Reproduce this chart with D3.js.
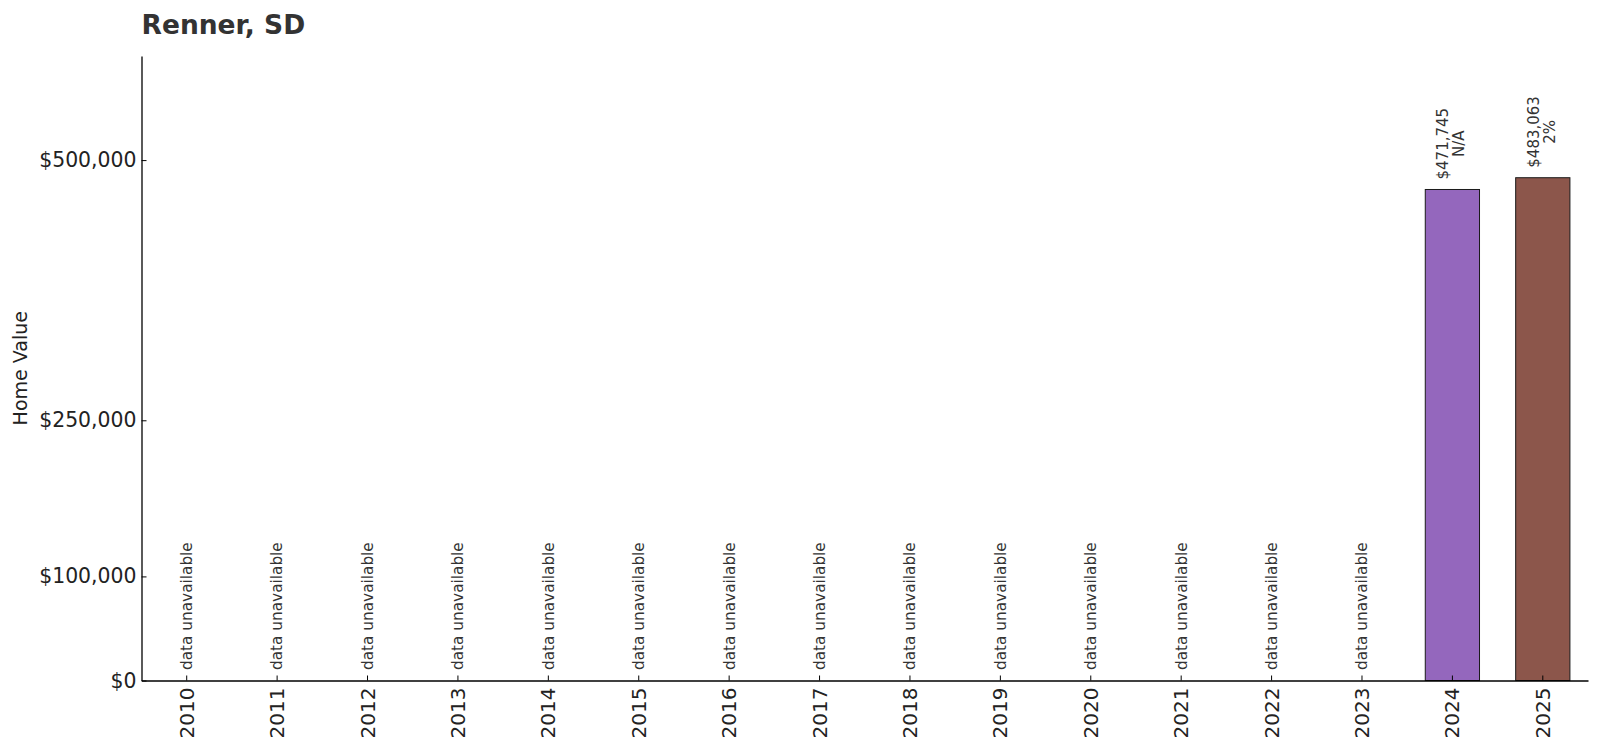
<!DOCTYPE html>
<html>
<head>
<meta charset="utf-8">
<script src="https://cdn.jsdelivr.net/npm/d3@7"></script>
<style>
  body { margin: 0; background: #fff; }
  svg, svg text { font-family: "DejaVu Sans", sans-serif; }
</style>
</head>
<body>
<div id="chart"></div>
<script>
// values
const years = ['2010', '2011', '2012', '2013', '2014', '2015', '2016', '2017',
  '2018', '2019', '2020', '2021', '2022', '2023', '2024', '2025'];
const homeValues = [null, null, null, null, null, null, null, null,
  null, null, null, null, null, null, 471745, 483063];
const changeLabels = ['', '', '', '', '', '', '', '', '', '', '', '', '', '', 'N/A', '2%'];
const barColors = { '2024': '#9467bd', '2025': '#8c564b' };
const yTicks = [0, 100000, 250000, 500000];

const width = 1600;
const height = 750;
const margin = { top: 56, right: 12, bottom: 69.5, left: 141.5 };

const svg = d3.select('#chart')
  .append('svg')
    .attr('width', width)
    .attr('height', height);

const x = d3.scaleBand()
  .domain(years)
  .range([margin.left, width - margin.right])
  .paddingInner(0.4)
  .paddingOuter(0.2);

const y = d3.scaleLinear()
  .domain([0, 600000])
  .range([height - margin.bottom, margin.top]);

const fmt = d3.format('$,');
const data = years.map((yr, i) => ({ year: yr, value: homeValues[i], change: changeLabels[i] }));

// title
svg.append('text')
  .attr('x', margin.left)
  .attr('y', 33.5)
  .attr('font-size', 26.5)
  .attr('font-weight', 'bold')
  .attr('fill', '#333')
  .text('Renner, SD');

// bars
svg.append('g')
  .selectAll('rect')
  .data(data.filter(d => d.value != null))
  .enter()
  .append('rect')
    .attr('x', d => x(d.year))
    .attr('y', d => y(d.value))
    .attr('width', x.bandwidth())
    .attr('height', d => y(0) - y(d.value))
    .attr('fill', d => barColors[d.year])
    .attr('stroke', '#1a1a1a')
    .attr('stroke-width', 1);

// axes
const xAxis = svg.append('g')
  .attr('transform', `translate(0, ${y(0)})`)
  .call(d3.axisBottom(x).tickSizeInner(-5).tickSizeOuter(0))
  .attr('font-family', '"DejaVu Sans", sans-serif');
xAxis.select('.domain').attr('stroke', '#000').attr('stroke-width', 1.3);
xAxis.selectAll('.tick line').attr('stroke', '#000');
xAxis.selectAll('.tick text')
  .attr('font-size', 20)
  .attr('fill', '#222')
  .attr('text-anchor', 'end')
  .attr('dy', '0.35em')
  .attr('transform', 'rotate(-90)')
  .attr('x', -7)
  .attr('y', 0);

const yAxis = svg.append('g')
  .attr('transform', `translate(${margin.left}, 0)`)
  .call(d3.axisLeft(y).tickValues(yTicks).tickFormat(fmt).tickSizeInner(-5).tickSizeOuter(0))
  .attr('font-family', '"DejaVu Sans", sans-serif');
yAxis.select('.domain').attr('stroke', '#000').attr('stroke-width', 1.3);
yAxis.selectAll('.tick line').attr('stroke', '#000');
yAxis.selectAll('.tick text')
  .attr('font-size', 20.4)
  .attr('fill', '#222')
  .attr('x', -5);

// y axis title
svg.append('text')
  .attr('transform', `translate(27, ${(y(0) + y(600000)) / 2}) rotate(-90)`)
  .attr('text-anchor', 'middle')
  .attr('font-size', 19)
  .attr('fill', '#222')
  .text('Home Value');

// annotations
const notes = svg.append('g');
data.forEach(d => {
  const cx = x(d.year) + x.bandwidth() / 2;
  if (d.value == null) {
    notes.append('text')
      .attr('transform', `translate(${cx}, ${y(0) - 10.5}) rotate(-90)`)
      .attr('dy', '0.35em')
      .attr('font-size', 15.3)
      .attr('fill', '#333')
      .text('data unavailable');
  } else {
    const lines = [fmt(d.value), d.change];
    const lbl = notes.append('text')
      .attr('font-size', 15)
      .attr('fill', '#333')
      .attr('text-anchor', 'middle');
    lines.forEach((l, i) => {
      lbl.append('tspan')
        .attr('x', 0)
        .attr('dy', i === 0 ? '0em' : '1.05em')
        .text(l);
    });
    const w = d3.max(lbl.selectAll('tspan').nodes(), n => n.getComputedTextLength());
    // rotated text block, bottom edge ~10px above the bar top
    lbl.attr('transform', `translate(${cx - 4}, ${y(d.value) - 10 - w / 2}) rotate(-90)`);
  }
});
</script>
</body>
</html>
